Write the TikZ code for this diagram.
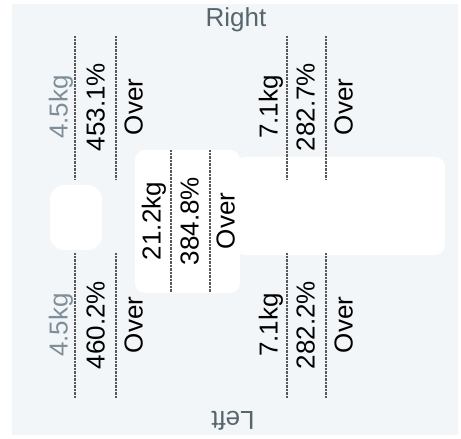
\documentclass[tikz,border=0pt]{standalone}
\usepackage{fontspec}
\setmainfont{Liberation Sans}
\usetikzlibrary{positioning,calc}

\definecolor{panelbg}{HTML}{F3F6F8}
\definecolor{kgblue}{HTML}{7E8F99}
\definecolor{sidegray}{HTML}{56666C}

\begin{document}
\begin{tikzpicture}[x=1pt, y=1pt, node distance=37pt]

\tikzstyle{val} = [rotate=90, inner sep=0pt, text height=0.72em, text depth=0.2em, font=\fontsize{26}{28}\selectfont, on grid]
\tikzstyle{side} = [inner sep=0pt, text=sidegray, font=\fontsize{26}{28}\selectfont]
\tikzstyle{sep} = [line width=1.4pt, draw=black!65, dash pattern=on 0.8pt off 0.6pt]

\useasboundingbox (0,0) rectangle (461,439);

%% ----------------
%% -- BACKGROUND --
%% ----------------

\fill [panelbg] (12,4) rectangle (458,435);

% body silhouette
\fill [white, rounded corners=14pt] (50,189) rectangle (102,254);
\fill [white, rounded corners=10pt] (135,146) rectangle (240,289);
\fill [white, rounded corners=10pt] (235,184) rectangle (445,282);

\node (right) [side] at (236,419) {Right};
\node (left) [side, rotate=180] at (233,18) {Left};

%% ----------
%% -- ARMS --
%% ----------

% right arm
\node (rarm_kg) [val, text=kgblue] at (65,332) {4.5kg};
\node (rarm_pct) [val, right=of rarm_kg] {453.1\%};
\node (rarm_eval) [val, right=38pt of rarm_pct] {Over};
\draw [sep] ($(rarm_kg)+(10,71)$) -- ++(0,-143);
\draw [sep] ($(rarm_pct)+(14,71)$) -- ++(0,-143);

% left arm
\node (larm_kg) [val, text=kgblue] at (65,114) {4.5kg};
\node (larm_pct) [val, right=of larm_kg] {460.2\%};
\node (larm_eval) [val, right=38pt of larm_pct] {Over};
\draw [sep] ($(larm_kg)+(10,72)$) -- ++(0,-145);
\draw [sep] ($(larm_pct)+(14,72)$) -- ++(0,-145);

%% -----------
%% -- TRUNK --
%% -----------

\node (trunk_kg) [val] at (158,218) {21.2kg};
\node (trunk_pct) [val, right=38pt of trunk_kg] {384.8\%};
\node (trunk_eval) [val, right=36pt of trunk_pct] {Over};
\draw [sep] ($(trunk_kg)+(13,71)$) -- ++(0,-142);
\draw [sep] ($(trunk_pct)+(14,71)$) -- ++(0,-142);

%% ----------
%% -- LEGS --
%% ----------

% right leg
\node (rleg_kg) [val] at (275,332) {7.1kg};
\node (rleg_pct) [val, right=of rleg_kg] {282.7\%};
\node (rleg_eval) [val, right=38pt of rleg_pct] {Over};
\draw [sep] ($(rleg_kg)+(12,71)$) -- ++(0,-143);
\draw [sep] ($(rleg_pct)+(14,71)$) -- ++(0,-143);

% left leg
\node (lleg_kg) [val] at (275,114) {7.1kg};
\node (lleg_pct) [val, right=of lleg_kg] {282.2\%};
\node (lleg_eval) [val, right=38pt of lleg_pct] {Over};
\draw [sep] ($(lleg_kg)+(12,72)$) -- ++(0,-145);
\draw [sep] ($(lleg_pct)+(14,72)$) -- ++(0,-145);

\end{tikzpicture}
\end{document}
